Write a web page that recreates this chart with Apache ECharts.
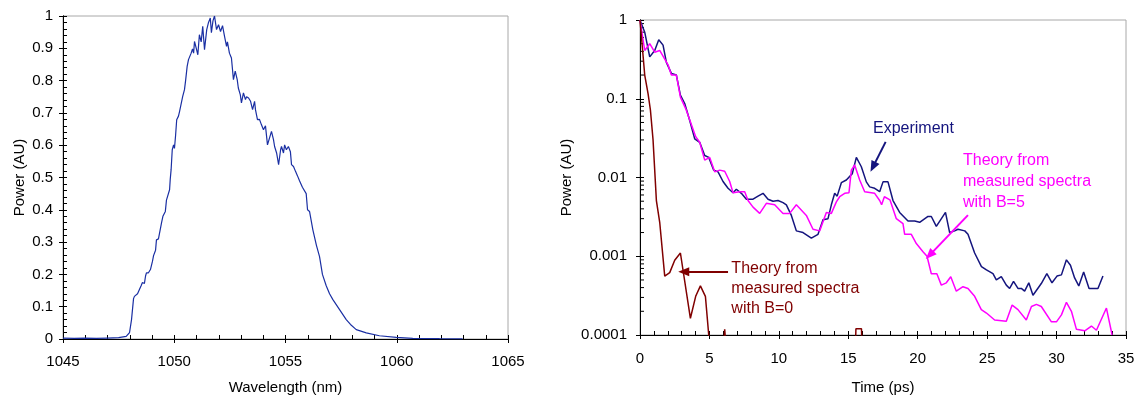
<!DOCTYPE html>
<html>
<head>
<meta charset="utf-8">
<script src="https://cdn.jsdelivr.net/npm/echarts@6/dist/echarts.min.js"></script>
<style>
html,body{margin:0;padding:0;background:#fff;}
#c{width:1138px;height:401px;}
</style>
</head>
<body>
<div id="c"></div>
<script>
// ---------- Left chart: spectrum ----------
const specWavelength = [1045,1045.5,1046,1046.5,1047,1047.5,1047.84,1047.99,1048.08,1048.17,1048.21,1048.35,1048.51,1048.57,1048.66,1048.71,1048.75,1048.84,1048.93,1049.02,1049.07,1049.16,1049.20,1049.29,1049.34,1049.43,1049.49,1049.60,1049.65,1049.79,1049.82,1049.86,1049.91,1049.97,1050.01,1050.06,1050.11,1050.19,1050.24,1050.31,1050.38,1050.46,1050.51,1050.58,1050.64,1050.69,1050.76,1050.82,1050.87,1050.91,1050.99,1051.06,1051.13,1051.21,1051.28,1051.36,1051.46,1051.54,1051.62,1051.67,1051.74,1051.81,1051.90,1051.99,1052.08,1052.17,1052.26,1052.35,1052.39,1052.48,1052.57,1052.66,1052.74,1052.83,1052.88,1052.97,1053.02,1053.11,1053.20,1053.25,1053.34,1053.43,1053.52,1053.61,1053.65,1053.74,1053.83,1053.92,1054.01,1054.10,1054.19,1054.28,1054.37,1054.46,1054.51,1054.60,1054.69,1054.78,1054.82,1054.91,1054.96,1055.04,1055.13,1055.22,1055.27,1055.36,1055.45,1055.54,1055.63,1055.76,1055.93,1055.99,1056.08,1056.23,1056.39,1056.53,1056.66,1056.83,1056.98,1057.13,1057.43,1057.73,1057.92,1058.18,1058.63,1059.22,1059.98,1060.72,1061.92,1062.96];
const specPower = [0.003,0.002,0.003,0.002,0.003,0.004,0.008,0.02,0.06,0.125,0.132,0.14,0.165,0.175,0.172,0.195,0.205,0.205,0.215,0.24,0.258,0.275,0.307,0.31,0.313,0.36,0.38,0.395,0.43,0.462,0.495,0.525,0.586,0.601,0.59,0.63,0.679,0.69,0.705,0.71,0.751,0.772,0.80,0.844,0.865,0.862,0.885,0.898,0.885,0.921,0.90,0.88,0.942,0.92,0.968,0.896,0.958,0.98,0.994,0.948,0.985,1.0,0.958,0.973,0.952,0.97,0.937,0.906,0.92,0.885,0.87,0.803,0.829,0.803,0.777,0.756,0.731,0.762,0.741,0.75,0.746,0.736,0.71,0.736,0.71,0.679,0.68,0.663,0.648,0.66,0.601,0.622,0.643,0.617,0.596,0.576,0.54,0.586,0.596,0.576,0.601,0.586,0.596,0.58,0.54,0.534,0.519,0.505,0.49,0.47,0.45,0.40,0.395,0.338,0.29,0.255,0.20,0.165,0.14,0.122,0.091,0.06,0.045,0.029,0.019,0.01,0.005,0.002,0.001,0.0005];
const specXTicks = [1045, 1065, 5];   // min, max, interval
const specYTicks = [0, 1, 0.1];

// ---------- Right chart: time decay ----------
const expTime = [0,0.34,0.70,1.06,1.35,1.66,1.90,2.26,2.62,2.91,3.22,3.58,3.94,4.30,4.66,4.95,5.31,5.62,5.98,6.34,6.70,6.94,7.30,7.66,8.14,8.50,8.86,9.22,9.58,9.94,10.30,10.54,10.90,11.26,11.74,12.34,12.82,13.18,13.54,13.78,14.02,14.20,14.50,14.86,15.29,15.58,15.94,16.30,16.54,16.90,17.26,17.50,17.86,18.22,18.70,19.30,19.78,20.14,20.74,20.98,21.34,22.00,22.30,22.66,22.90,23.39,23.62,24.10,24.59,24.95,25.42,25.66,26.02,26.38,26.62,26.90,27.22,27.46,27.70,28.00,28.30,28.90,29.30,29.67,30.03,30.35,30.71,31.00,31.30,31.60,31.95,32.34,32.98,33.34];
const expPower = [1,0.70,0.34,0.41,0.56,0.48,0.29,0.21,0.20,0.111,0.087,0.053,0.031,0.028,0.019,0.018,0.0124,0.0118,0.0089,0.0073,0.0064,0.0071,0.0063,0.0053,0.0053,0.0058,0.0063,0.0053,0.0050,0.0051,0.0048,0.0045,0.0033,0.0021,0.0020,0.0017,0.0019,0.0029,0.0030,0.0045,0.0063,0.0058,0.0086,0.0093,0.0112,0.018,0.0137,0.0088,0.0076,0.0073,0.0066,0.0088,0.0088,0.0051,0.0036,0.0028,0.0028,0.0027,0.0032,0.0032,0.0024,0.0036,0.0020,0.0021,0.0022,0.0021,0.0019,0.0011,0.00074,0.00067,0.00060,0.00050,0.00055,0.00043,0.00039,0.00048,0.00039,0.00039,0.00036,0.00046,0.00032,0.00045,0.00060,0.00046,0.00056,0.00058,0.00090,0.00077,0.00053,0.00042,0.00063,0.00039,0.00039,0.00056];

const b5Time = [0,0.34,0.70,1.06,1.42,2.02,2.26,2.62,2.91,3.29,3.63,4.01,4.30,4.66,5.02,5.38,5.74,6.10,6.46,6.70,7.18,7.54,7.78,8.14,8.62,9.10,9.70,10.30,10.78,11.26,11.98,12.46,12.94,13.42,13.78,14.14,14.38,14.74,15.05,15.22,15.46,15.82,16.18,16.90,17.26,17.40,17.60,18.00,18.46,18.94,19.06,19.54,19.90,20.38,20.67,20.98,21.38,21.70,22.06,22.38,22.78,23.26,23.62,24.10,24.58,24.95,25.54,26.38,26.80,27.22,27.82,28.19,28.55,28.90,29.63,29.99,30.35,30.71,31.07,31.43,32.03,32.51,32.87,33.59,34.00];
const b5Power = [1,0.41,0.50,0.39,0.41,0.27,0.20,0.20,0.105,0.075,0.051,0.033,0.028,0.0166,0.018,0.0118,0.0124,0.012,0.0089,0.0064,0.0066,0.0066,0.0051,0.0042,0.0035,0.0047,0.0045,0.0035,0.0035,0.0045,0.0033,0.0022,0.0021,0.0036,0.0035,0.0049,0.0057,0.0063,0.0064,0.0124,0.0144,0.0093,0.0066,0.0063,0.0051,0.0045,0.0057,0.0052,0.0030,0.0026,0.0019,0.0019,0.00145,0.00114,0.0010,0.0006,0.0006,0.00043,0.00046,0.00055,0.00036,0.00041,0.00039,0.00031,0.00021,0.00019,0.000155,0.00015,0.00024,0.00021,0.000155,0.00023,0.000245,0.00023,0.000147,0.000147,0.00018,0.00026,0.00020,0.000118,0.000113,0.00013,0.000115,0.00022,0.0001];

const b0Time = [0,0.34,0.58,0.75,0.94,1.18,1.42,1.78,2.14,2.50,2.91,3.63,4.01,4.35,4.71,4.95,5.30,5.90,6.10,6.35,6.60,15.30,15.45,15.55,15.95,16.05,16.30];
const b0Power = [1,0.2,0.116,0.072,0.03,0.0051,0.0027,0.00056,0.00062,0.00089,0.0011,0.000163,0.00031,0.00042,0.00031,0.0001,0.00003,0.00003,0.000118,0.00003,0.00003,0.00003,0.00003,0.00012,0.00012,0.00003,0.00003];

const timeXTicks = [0, 35, 5];
const timeYTicks = [0.0001, 0.001, 0.01, 0.1, 1];
const timeYTickLabels = ['0.0001', '0.001', '0.01', '0.1', '1'];
const logMinorTicks = [];
for (let k = -4; k < 0; k++) for (let m = 2; m <= 9; m++) logMinorTicks.push(+(m * Math.pow(10, k)).toPrecision(3));

const labels = {
  experiment: 'Experiment',
  b5: 'Theory from\nmeasured spectra\nwith B=5',
  b0: 'Theory from\nmeasured spectra\nwith B=0',
  wavelength: 'Wavelength (nm)',
  time: 'Time (ps)',
  power: 'Power (AU)'
};

// ---------- build ----------
const zip = (a, b) => a.map((v, i) => [v, b[i]]);
const FONT = 'Liberation Sans, Arial, sans-serif';
const axisTxt = { color: '#000', fontFamily: FONT, fontSize: 15 };
const cBlue = '#1a2fa3', cNavy = '#14147e', cMag = '#ff00ff', cMaroon = '#800000';
const plain = v => String(+v.toFixed(4));

function valAxis(min, max, interval, opts) {
  return Object.assign({
    type: 'value', min: min, max: max, interval: interval,
    splitLine: { show: false },
    axisLine: { show: true, lineStyle: { color: '#000', width: 1 } },
    axisTick: { show: true, length: 4, lineStyle: { color: '#000' } },
    axisLabel: Object.assign({}, axisTxt, { formatter: plain }),
    nameTextStyle: Object.assign({}, axisTxt)
  }, opts);
}
function dupAxis(base) {
  const a = Object.assign({}, base);
  a.name = '';
  a.axisLabel = { show: false };
  a.axisLine = { show: true, lineStyle: { color: '#000', width: 1 } };
  a.axisTick = { show: true, inside: true, length: 4, lineStyle: { color: '#000' } };
  return a;
}
const minor = { show: true, splitNumber: 5, length: 4, lineStyle: { color: '#000' } };

const xL = valAxis(specXTicks[0], specXTicks[1], specXTicks[2], {
  gridIndex: 0, position: 'bottom', name: labels.wavelength, nameLocation: 'middle', nameGap: 41,
  axisLabel: Object.assign({}, axisTxt, { margin: 15, formatter: plain })
});
const xL2 = Object.assign(dupAxis(xL), { minorTick: minor });
const yL = valAxis(specYTicks[0], specYTicks[1], specYTicks[2], {
  gridIndex: 0, position: 'left', name: labels.power, nameLocation: 'middle', nameGap: 36,
  axisLabel: Object.assign({}, axisTxt, { margin: 10, formatter: plain })
});
const yL2 = Object.assign(dupAxis(yL), { minorTick: minor });

const xR = valAxis(timeXTicks[0], timeXTicks[1], timeXTicks[2], {
  gridIndex: 1, position: 'bottom', name: labels.time, nameLocation: 'middle', nameGap: 45,
  axisLabel: Object.assign({}, axisTxt, { margin: 16, formatter: plain })
});
const xR2 = Object.assign(dupAxis(xR), { minorTick: minor });
const yR = {
  type: 'log', logBase: 10, min: timeYTicks[0], max: timeYTicks[timeYTicks.length - 1],
  gridIndex: 1, position: 'left', name: labels.power, nameLocation: 'middle', nameGap: 66,
  splitLine: { show: false },
  axisLine: { show: true, lineStyle: { color: '#000' } },
  axisTick: { show: true, length: 4, lineStyle: { color: '#000' } },
  axisLabel: Object.assign({}, axisTxt, {
    margin: 13,
    formatter: function (v) {
      let best = 0, bd = Infinity;
      timeYTicks.forEach(function (t, i) { const d = Math.abs(Math.log10(t) - Math.log10(v)); if (d < bd) { bd = d; best = i; } });
      return timeYTickLabels[best];
    }
  }),
  nameTextStyle: Object.assign({}, axisTxt)
};
const yR2 = dupAxis(yR);

const arrowLine = (color, from, to) => ({
  silent: true, animation: false,
  symbol: ['none', 'triangle'], symbolSize: [9, 11],
  label: { show: false },
  lineStyle: { color: color, width: 2, type: 'solid' },
  emphasis: { disabled: true },
  data: [[{ coord: from, symbol: 'none' }, { coord: to }]]
});

const option = {
  animation: false,
  backgroundColor: '#fff',
  textStyle: { fontFamily: FONT },
  grid: [
    { left: 63, top: 16, width: 445, height: 323, show: true, borderColor: '#a8a8a8', borderWidth: 1, backgroundColor: 'transparent' },
    { left: 640, top: 20, width: 486, height: 315, show: true, borderColor: '#a8a8a8', borderWidth: 1, backgroundColor: 'transparent' }
  ],
  xAxis: [xL, xL2, xR, xR2],
  yAxis: [yL, yL2, yR, yR2],
  series: [
    { type: 'line', xAxisIndex: 0, yAxisIndex: 0, data: zip(specWavelength, specPower), showSymbol: false, lineStyle: { color: cBlue, width: 1.2 }, itemStyle: { color: cBlue } },
    { type: 'line', xAxisIndex: 2, yAxisIndex: 2, data: zip(expTime, expPower), showSymbol: false, lineStyle: { color: cNavy, width: 1.5 }, itemStyle: { color: cNavy },
      markLine: arrowLine(cNavy, [17.69, 0.0283], [16.78, 0.01365]) },
    { type: 'line', xAxisIndex: 2, yAxisIndex: 2, data: zip(b5Time, b5Power), showSymbol: false, lineStyle: { color: cMag, width: 1.5 }, itemStyle: { color: cMag },
      markLine: arrowLine(cMag, [23.62, 0.00333], [20.86, 0.001035]) },
    { type: 'line', xAxisIndex: 2, yAxisIndex: 2, data: zip(b0Time, b0Power), showSymbol: false, clip: true, lineStyle: { color: cMaroon, width: 1.5 }, itemStyle: { color: cMaroon },
      markLine: arrowLine(cMaroon, [6.34, 0.000636], [3.15, 0.000636]) },
    { type: 'custom', xAxisIndex: 2, yAxisIndex: 2, silent: true, clip: false,
      data: logMinorTicks.map(v => [timeXTicks[0], v]),
      renderItem: function (params, api) {
        const p = api.coord([api.value(0), api.value(1)]);
        return { type: 'line', shape: { x1: p[0], y1: p[1], x2: p[0] + 4, y2: p[1] }, style: { stroke: '#000', lineWidth: 1 } };
      } }
  ]
};

const chart = echarts.init(document.getElementById('c'), null, { renderer: 'canvas' });
chart.setOption(option);

function txtAt(coord, text, color, lh) {
  const p = chart.convertToPixel({ seriesIndex: 1 }, coord);
  return { type: 'text', x: p[0], y: p[1], silent: true,
    style: { text: text, fill: color, font: '16px ' + FONT, lineHeight: lh, textAlign: 'left', textVerticalAlign: 'top', verticalAlign: 'top' } };
}
chart.setOption({
  graphic: [
    txtAt([16.78, 0.0560], labels.experiment, cNavy, 20),
    txtAt([23.26, 0.0221], labels.b5, cMag, 21),
    txtAt([6.58, 0.00094], labels.b0, cMaroon, 20)
  ]
});
</script>
</body>
</html>
